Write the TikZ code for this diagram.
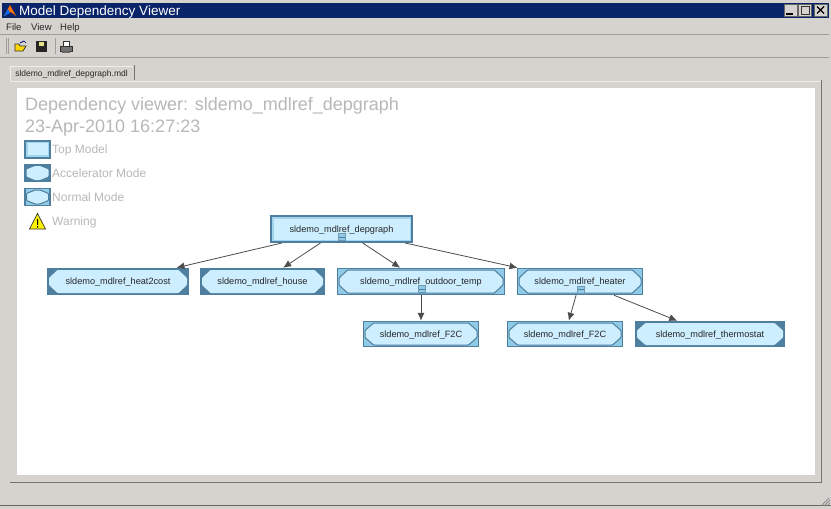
\documentclass[tikz,border=0pt]{standalone}
\usepackage{fontspec}
\setmainfont{Liberation Sans}
\usetikzlibrary{arrows.meta}
\definecolor{chrome}{HTML}{D6D3CE}
\definecolor{chromeline}{HTML}{A09D98}
\definecolor{navy}{HTML}{0A246A}
\definecolor{frameblue}{HTML}{4F7F9E}
\definecolor{cornerblue}{HTML}{8FCBE6}
\definecolor{bodyblue}{HTML}{CCEEFF}
\definecolor{greytext}{HTML}{B8B8B8}
\newcommand{\modelbody}[1]{%
  \path[#1, rounded corners=0.8pt] ([xshift=1.5pt,yshift=3.5pt]path picture bounding box.west)
   -- ([xshift=1.5pt,yshift=-3.5pt]path picture bounding box.west)
   -- ([xshift=10pt,yshift=1.5pt]path picture bounding box.south west)
   -- ([xshift=-10pt,yshift=1.5pt]path picture bounding box.south east)
   -- ([xshift=-1.5pt,yshift=-3.5pt]path picture bounding box.east)
   -- ([xshift=-1.5pt,yshift=3.5pt]path picture bounding box.east)
   -- ([xshift=-10pt,yshift=-1.5pt]path picture bounding box.north east)
   -- ([xshift=10pt,yshift=-1.5pt]path picture bounding box.north west)
   -- cycle;}
\tikzset{
  modelbox/.style={draw=frameblue, line width=1.5pt, inner sep=0pt, text height=6.5pt, text depth=0pt, font=\fontsize{9.15}{10}\selectfont, text=black!85},
  topmodel/.style={modelbox, fill=cornerblue!70!bodyblue, line width=2pt,
    path picture={\fill[bodyblue] ([shift={(2.5pt,2.5pt)}]path picture bounding box.south west) rectangle ([shift={(-2.5pt,-2.5pt)}]path picture bounding box.north east);}},
  accelmodel/.style={modelbox, fill=frameblue, path picture={\modelbody{fill=bodyblue}}},
  normalmodel/.style={modelbox, fill=cornerblue, path picture={\modelbody{fill=bodyblue, draw=frameblue, line width=1pt}}},
  collapsebox/.style={draw=frameblue!80, fill=cornerblue, line width=0.6pt, minimum size=7pt, inner sep=0pt,
    path picture={\draw[frameblue, line width=0.6pt] (path picture bounding box.west) -- (path picture bounding box.east);}},
  depline/.style={draw=black!70, line width=0.8pt, -{Latex[length=8pt,width=7pt]}},
  legendtext/.style={anchor=base west, inner sep=0pt, text=greytext, font=\fontsize{12}{14}\selectfont},
  titletext/.style={anchor=base west, inner sep=0pt, text=greytext, font=\fontsize{18}{20}\selectfont},
  menutext/.style={anchor=base west, inner sep=0pt, text=black!85, font=\fontsize{9.5}{11}\selectfont},
  winbutton/.style={draw=black!60, fill=chrome, line width=0.7pt, minimum width=13pt, minimum height=12pt, inner sep=0pt},
  sunkenline/.style={draw=chromeline, line width=1pt}
}
\begin{document}
\begin{tikzpicture}[x=1pt,y=-1pt]
        \useasboundingbox (0,0) rectangle (831,509);
        % window
        \fill[chrome] (0,0) rectangle (831,509);
        \fill[navy] (2,3) rectangle (829,18);
        \fill[orange!90!red] (4,16) -- (10,5) -- (16,16) -- (11,12) -- cycle;
        \fill[blue!60!cyan] (4,16) -- (8,9) -- (10,13) -- cycle;
        \node[anchor=base west, inner sep=0pt, text=white, font=\fontsize{13.5}{15}\selectfont] (wintitle) at (19,15.5) {Model Dependency Viewer};
        \node[winbutton] (btnmin) at (790.5,10) {};
        \node[winbutton] (btnmax) at (805,10) {};
        \node[winbutton] (btnclose) at (820.5,10) {};
        \draw[black, line width=1.4pt] (786,14) -- (793,14);
        \draw[black!80, line width=1pt] (801,6) rectangle (809,14);
        \draw[black, line width=1.4pt] (817,6.5) -- (824,13.5) (824,6.5) -- (817,13.5);
        % menu and toolbar
        \node[menutext] (menufile) at (6,30.5) {File};
        \node[menutext] (menuview) at (31,30.5) {View};
        \node[menutext] (menuhelp) at (60,30.5) {Help};
        \draw[sunkenline] (0,34.5) -- (829,34.5);
        \draw[sunkenline] (0,57.5) -- (829,57.5);
        \draw[chromeline, line width=0.8pt] (6,38) -- (6,54) (8,38) -- (8,54) (55,38) -- (55,54);
        % open, save, print
        \draw[black!80, fill=yellow!75!orange, line width=0.7pt] (15,51) -- (15,44) -- (19,44) -- (20,46) -- (26,46) -- (23,51) -- cycle;
        \draw[blue!50!black, line width=0.7pt] (20,43) -- (24,41) -- (26,43);
        \fill[black!85] (36,41) rectangle (47,52);
        \fill[yellow!40!chrome] (39,42) rectangle (44,46);
        \fill[black!55] (60,46) rectangle (72,51);
        \draw[black!80, fill=white, line width=0.8pt] (63,41) rectangle (69,46);
        \draw[black!80, line width=0.8pt] (60,46) rectangle (72,51);
        \fill[black!60] (62,51) rectangle (70,53);
        % tab and panel
        \fill[chrome!40!white] (10,82) -- (10,66) -- (133,66) -- (133,82) -- cycle;
        \fill[chrome] (11,67) rectangle (133,82);
        \draw[black!55, line width=1pt] (134,65) -- (134,80);
        \node[anchor=base, inner sep=0pt, text=black!85, font=\fontsize{8.5}{10}\selectfont] (tablabel) at (71.5,76.5) {sldemo\_mdlref\_depgraph.mdl};
        \fill[chrome!40!white] (11,80.5) rectangle (821,82);
        \draw[black!55, line width=1pt] (821.5,80) -- (821.5,482.5) -- (10,482.5);
        \fill[white] (17,88) rectangle (815,475);
        \draw[black!60, line width=1pt] (0,505.5) -- (831,505.5);
        \draw[black!45, line width=0.8pt] (821,506) -- (829,498) (824,506) -- (830,500) (827,506) -- (830,503);
        % heading and legend
        \node[titletext] (heading) at (25,110.5) {Dependency viewer: sldemo\_mdlref\_depgraph};
        \node[titletext] (stamp) at (25,132.5) {23-Apr-2010 16:27:23};
        \node[topmodel, minimum width=25pt, minimum height=17pt] (legendtop) at (37.5,149) {};
        \node[accelmodel, minimum width=25pt, minimum height=17pt] (legendaccel) at (37.5,173) {};
        \node[normalmodel, minimum width=25pt, minimum height=17pt] (legendnormal) at (37.5,197) {};
        \node[legendtext] (toptext) at (52,153.5) {Top Model};
        \node[legendtext] (acceltext) at (52,177.5) {Accelerator Mode};
        \node[legendtext] (normaltext) at (52,201.5) {Normal Mode};
        \node[legendtext] (warntext) at (52,225.5) {Warning};
        \draw[black!80, fill=yellow, line width=0.7pt] (37.5,213.5) -- (45.5,229) -- (29.5,229) -- cycle;
        \fill[black] (37,219) rectangle (38,225) (37,226) rectangle (38,227.5);
        % model nodes
        \node[topmodel, minimum width=141pt, minimum height=26pt] (depgraph) at (341.5,229) {sldemo\_mdlref\_depgraph};
        \node[accelmodel, minimum width=141pt, minimum height=26pt] (heat2cost) at (118,281.5) {sldemo\_mdlref\_heat2cost};
        \node[accelmodel, minimum width=124pt, minimum height=26pt] (house) at (262.5,281.5) {sldemo\_mdlref\_house};
        \node[normalmodel, minimum width=167pt, minimum height=26pt] (outdoor) at (421,281.5) {sldemo\_mdlref\_outdoor\_temp};
        \node[normalmodel, minimum width=125pt, minimum height=26pt] (heater) at (580,281.5) {sldemo\_mdlref\_heater};
        \node[normalmodel, minimum width=115pt, minimum height=25pt] (tempconva) at (421,334) {sldemo\_mdlref\_F2C};
        \node[normalmodel, minimum width=115pt, minimum height=25pt] (tempconvb) at (565,334) {sldemo\_mdlref\_F2C};
        \node[accelmodel, minimum width=149pt, minimum height=25pt] (thermostat) at (710,334) {sldemo\_mdlref\_thermostat};
        % dependencies
        \draw[depline] (depgraph) -- (heat2cost);
        \draw[depline] (depgraph) -- (house);
        \draw[depline] (depgraph) -- (outdoor);
        \draw[depline] (depgraph) -- (heater);
        \draw[depline] (outdoor) -- (tempconva);
        \draw[depline] (heater) -- (tempconvb);
        \draw[depline] (heater) -- (thermostat);
        % collapse marks
        \node[collapsebox] (collapsetop) at (341.5,237) {};
        \node[collapsebox] (collapseoutdoor) at (421.5,289) {};
        \node[collapsebox] (collapseheater) at (580.5,289.5) {};
\end{tikzpicture}
\end{document}
